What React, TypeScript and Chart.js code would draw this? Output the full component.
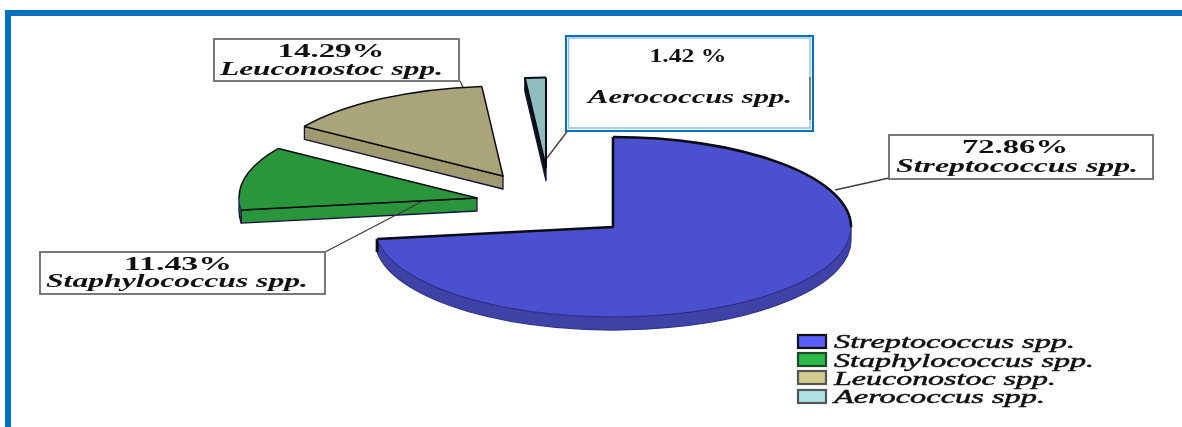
import React, { useEffect, useRef } from "react";
import { Chart, registerables } from "chart.js";

Chart.register(...registerables);

// Genus names and their share of the isolates (%)
const genera = ["Streptococcus spp.", "Staphylococcus spp.", "Leuconostoc spp.", "Aerococcus spp."];
const shares = [72.86, 11.43, 14.29, 1.42];
const shareLabels = ["72.86%", "11.43%", "14.29%", "1.42 %"];

// Colours of each slice: top face, extruded side, legend swatch
const topColors = ["#4b50d0", "#2a963c", "#a9a47a", "#8fbcbc"];
const sideColors = ["#3f43a8", "#2a963c", "#a09a70", "#0c1414"];
const swatchColors = ["#5a60fa", "#2db84a", "#d4cc8e", "#b0e4e4"];
const swatchBorders = ["#111111", "#1c4a26", "#555555", "#555555"];
const outlineWidths = [2.6, 1.5, 1.5, 2];

// Pie projection
const TILT = 0.378;
const DEPTH = 13;
const PIE_RADIUS = 238;
const sliceShiftX = [22, -114, -88, -45];
const sliceShiftY = [13.5, -15.5, -37.5, -46];

// Callout boxes, indexed like the genera: [left, top, right, bottom]
const calloutBoxes = [
  [889, 135, 1153, 179],
  [40, 252, 325, 294],
  [214, 39, 459, 81],
  [566, 36, 813, 131],
];
const leaderLines = [
  [835, 190, 889, 178],
  [325, 252, 421, 202],
  [460, 81, 463, 87],
  [547, 158, 569, 129],
];
// Percent text: centre x, baseline, width. Name text: left x, baseline, width.
const percentText = [
  [1015, 153, 106],
  [178, 270, 108],
  [331, 57, 107],
  [688, 62, 77],
];
const nameText = [
  [896, 172, 242],
  [46, 287, 262],
  [220, 75, 223],
  [588, 103, 204],
];
// Legend rows: swatch top, text baseline, text width
const legendSwatchTop = [335, 353, 371, 390];
const legendBaseline = [348, 367, 385, 403];
const legendTextWidth = [241, 260, 222, 211];

const FRAME_BLUE = "#0070c0";
const SERIF = '"Liberation Serif", "Times New Roman", serif';

// Wide, horizontally stretched text fitted to a given width
function drawWideText(ctx: CanvasRenderingContext2D, text: string, x: number, y: number, width: number, font: string, align = "left", weight = 0) {
  ctx.save();
  ctx.font = font;
  ctx.fillStyle = "#111111";
  ctx.textBaseline = "alphabetic";
  ctx.textAlign = "left";
  const natural = ctx.measureText(text).width;
  const left = align === "center" ? x - width / 2 : x;
  ctx.translate(left, y);
  ctx.scale(width / natural, 1);
  ctx.fillText(text, 0, 0);
  if (weight > 0) {
    ctx.strokeStyle = "#111111";
    ctx.lineWidth = weight;
    ctx.strokeText(text, 0, 0);
  }
  ctx.restore();
}

const pie3d = {
  id: "pie3d",
  beforeDraw(chart: any) {
    const { ctx, width, height } = chart;
    ctx.save();
    ctx.fillStyle = "#ffffff";
    ctx.fillRect(0, 0, width, height);
    ctx.fillStyle = FRAME_BLUE;
    ctx.fillRect(5, 10, width - 5, 6);
    ctx.fillRect(5, 10, 6, height - 10);
    ctx.restore();
  },
  beforeDatasetDraw(chart: any, args: any) {
    const { ctx } = chart;
    const arcs = args.meta.data;

    // Screen position of a point on a slice's rim
    const rim = (arc: any, i: number, angle: number, drop = 0) => ({
      x: arc.x + sliceShiftX[i] + Math.cos(angle) * arc.outerRadius,
      y: arc.y + sliceShiftY[i] + Math.sin(angle) * arc.outerRadius * TILT + drop,
    });
    const apex = (arc: any, i: number, drop = 0) => ({
      x: arc.x + sliceShiftX[i],
      y: arc.y + sliceShiftY[i] + drop,
    });
    const traceArc = (arc: any, i: number, from: number, to: number, drop = 0) => {
      ctx.ellipse(apex(arc, i).x, apex(arc, i, drop).y, arc.outerRadius, arc.outerRadius * TILT, 0, from, to, to < from);
    };

    arcs.forEach((arc: any, i: number) => {
      const { startAngle: start, endAngle: end } = arc;
      ctx.save();
      ctx.lineJoin = "round";
      ctx.strokeStyle = "#14143c";
      ctx.lineWidth = 1.3;
      ctx.fillStyle = sideColors[i];

      // Cut faces: only the one turned toward the viewer is drawn
      const facing: number[] = [];
      if (Math.cos(start) < -1e-9) facing.push(start);
      if (Math.cos(end) > 1e-9) facing.push(end);
      facing.forEach((angle) => {
        const a = apex(arc, i);
        const r = rim(arc, i, angle);
        ctx.beginPath();
        ctx.moveTo(a.x, a.y);
        ctx.lineTo(r.x, r.y);
        ctx.lineTo(r.x, r.y + DEPTH);
        ctx.lineTo(a.x, a.y + DEPTH);
        ctx.closePath();
        ctx.fill();
        ctx.stroke();
      });

      // Outer wall, only where it faces the viewer
      const wallFrom = Math.max(start, 0);
      const wallTo = Math.min(end, Math.PI);
      if (wallTo > wallFrom) {
        ctx.beginPath();
        traceArc(arc, i, wallFrom, wallTo);
        traceArc(arc, i, wallTo, wallFrom, DEPTH);
        ctx.closePath();
        ctx.fill();
        ctx.strokeStyle = i === 0 ? "#33358f" : "#14143c";
        ctx.stroke();
      }

      // Top face comes from the library's arc element
      ctx.save();
      const a = apex(arc, i);
      ctx.translate(a.x, a.y);
      ctx.scale(1, TILT);
      ctx.translate(-arc.x, -arc.y);
      arc.options.backgroundColor = topColors[i];
      arc.draw(ctx);
      ctx.restore();

      // Outline in screen space so the stroke keeps its width
      ctx.strokeStyle = "#0b0b14";
      ctx.lineWidth = outlineWidths[i];
      ctx.beginPath();
      const s = rim(arc, i, start);
      ctx.moveTo(s.x, s.y);
      ctx.lineTo(a.x, a.y);
      const e = rim(arc, i, end);
      ctx.lineTo(e.x, e.y);
      ctx.stroke();

      if (wallTo > wallFrom) {
        // Back of the rim is heavy, the front is a thin line
        if (start < 0) {
          ctx.beginPath();
          traceArc(arc, i, start, 0);
          ctx.stroke();
        }
        // The slice's sharp corner shows a dark vertical edge
        if (end < Math.PI) {
          ctx.lineWidth = 3;
          ctx.beginPath();
          ctx.moveTo(e.x, e.y);
          ctx.lineTo(e.x, e.y + DEPTH);
          ctx.stroke();
        }
        ctx.beginPath();
        ctx.lineWidth = 1;
        ctx.strokeStyle = "#2b2d86";
        traceArc(arc, i, wallFrom, wallTo);
        ctx.stroke();
        if (end > Math.PI) {
          ctx.beginPath();
          ctx.lineWidth = outlineWidths[i];
          ctx.strokeStyle = "#0b0b14";
          traceArc(arc, i, Math.PI, end);
          ctx.stroke();
        }
      } else {
        ctx.beginPath();
        traceArc(arc, i, start, end);
        ctx.stroke();
      }
      ctx.restore();
    });
    return false;
  },
  afterDraw(chart: any) {
    const { ctx } = chart;
    ctx.save();

    // Leader lines
    ctx.strokeStyle = "#3c3c3c";
    ctx.lineWidth = 1.3;
    leaderLines.forEach(([x1, y1, x2, y2]) => {
      ctx.beginPath();
      ctx.moveTo(x1, y1);
      ctx.lineTo(x2, y2);
      ctx.stroke();
    });

    // Callouts
    genera.forEach((name, i) => {
      const [l, t, r, b] = calloutBoxes[i];
      ctx.fillStyle = "#ffffff";
      ctx.fillRect(l, t, r - l, b - t);
      if (i === 3) {
        ctx.strokeStyle = "#8fc3e8";
        ctx.lineWidth = 1.5;
        ctx.strokeRect(l + 2.5, t + 2, r - l - 5.5, b - t - 5);
        ctx.strokeStyle = "#666666";
        ctx.beginPath();
        ctx.moveTo(r - 3, 77);
        ctx.lineTo(r - 3, 120);
        ctx.stroke();
        ctx.strokeStyle = FRAME_BLUE;
        ctx.lineWidth = 2;
      } else {
        ctx.strokeStyle = "#6b6b6b";
        ctx.lineWidth = 1.8;
      }
      ctx.strokeRect(l, t, r - l, b - t);
      const [px, py, pw] = percentText[i];
      drawWideText(ctx, shareLabels[i], px, py, pw, `bold 18px ${SERIF}`, "center");
      const [nx, ny, nw] = nameText[i];
      drawWideText(ctx, name, nx, ny, nw, `italic bold 18px ${SERIF}`);
    });

    // Legend
    genera.forEach((name, i) => {
      ctx.fillStyle = swatchColors[i];
      ctx.strokeStyle = swatchBorders[i];
      ctx.lineWidth = 2.2;
      ctx.fillRect(798, legendSwatchTop[i], 28, 13);
      ctx.strokeRect(798, legendSwatchTop[i], 28, 13);
      drawWideText(ctx, name, 834, legendBaseline[i], legendTextWidth[i], `italic 18px ${SERIF}`, "left", 0.45);
    });
    ctx.restore();
  },
};

export default function App() {
  const canvasRef = useRef<HTMLCanvasElement | null>(null);

  useEffect(() => {
    const chart = new Chart(canvasRef.current as HTMLCanvasElement, {
      type: "pie",
      data: {
        labels: genera,
        datasets: [
          {
            data: shares,
            backgroundColor: topColors,
            borderWidth: 0,
            radius: PIE_RADIUS,
          } as any,
        ],
      },
      options: {
        animation: false,
        responsive: false,
        events: [],
        plugins: {
          legend: { display: false },
          tooltip: { enabled: false },
        },
      },
      plugins: [pie3d],
    });
    return () => chart.destroy();
  }, []);

  return (
    <div style={{ position: "fixed", left: 0, top: 0, width: 1182, height: 427, background: "#ffffff" }}>
      <canvas ref={canvasRef} width={1182} height={427} style={{ display: "block" }} />
    </div>
  );
}
